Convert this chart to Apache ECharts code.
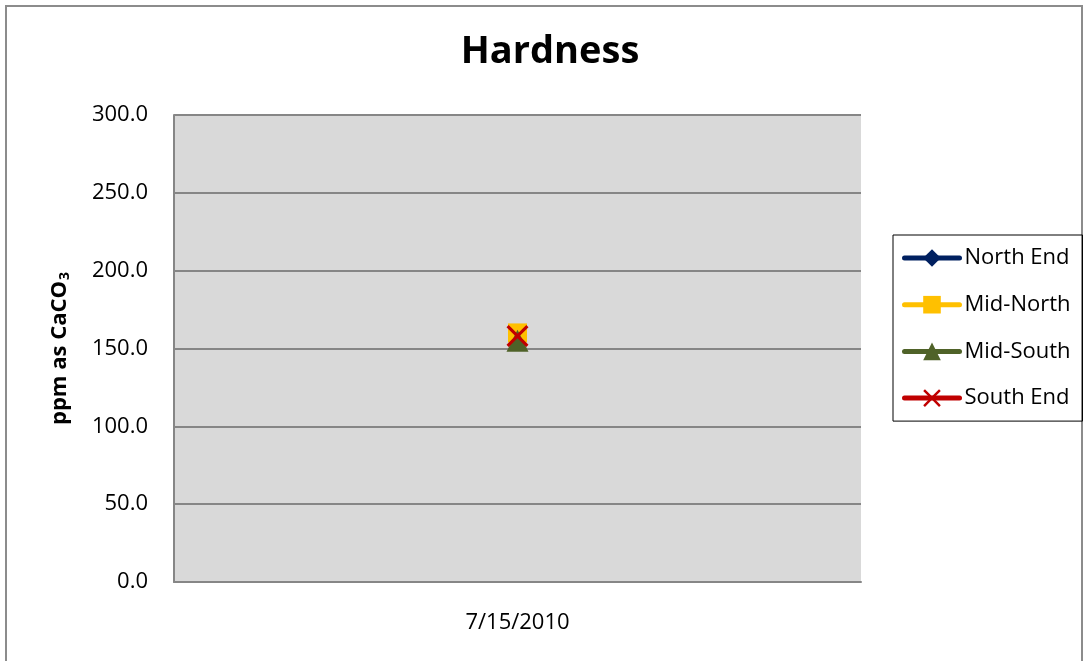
<!DOCTYPE html>
<html>
<head>
<meta charset="utf-8">
<script src="https://cdn.jsdelivr.net/npm/echarts@6/dist/echarts.min.js"></script>
<style>
  html, body { margin: 0; padding: 0; background: #fff; }
  #chart { width: 1085px; height: 661px; }
</style>
</head>
<body>
<div id="chart"></div>
<script>
// data
var dates = ['7/15/2010'];
var yTicks = [0, 50, 100, 150, 200, 250, 300];
var northEnd = [158];
var midNorth = [160];
var midSouth = [155];
var southEnd = [158];

var seriesNames = ['North End', 'Mid-North', 'Mid-South', 'South End'];
var seriesColors = ['#002060', '#ffc000', '#4f6228', '#c00000'];
var seriesSymbols = ['diamond', 'rect', 'triangle',
	'path://M0,1L1,0L5,4L9,0L10,1L6,5L10,9L9,10L5,6L1,10L0,9L4,5Z'];
var seriesSizes = [18, 19, 22, 22];
var seriesData = [northEnd, midNorth, midSouth, southEnd];

var font = '"Open Sans", "Noto Sans", sans-serif';

var chart = echarts.init(document.getElementById('chart'));

var series = [];
for (var i = 0; i < seriesNames.length; i++) {
	series.push({
		name: seriesNames[i],
		type: 'line',
		data: seriesData[i],
		symbol: seriesSymbols[i],
		symbolSize: seriesSizes[i],
		color: seriesColors[i],
		itemStyle: { color: seriesColors[i] },
		lineStyle: { width: 4, color: seriesColors[i], cap: 'round' },
		emphasis: { disabled: true }
	});
}

var option = {
	animation: false,
	backgroundColor: '#fff',
	title: {
		text: 'Hardness',
		left: 545,
		top: 28,
		textAlign: 'center',
		textStyle: { fontFamily: font, fontSize: 38, fontWeight: 'bold', color: '#000' }
	},
	legend: {
		data: seriesNames,
		orient: 'vertical',
		left: 893,
		top: 235,
		width: 189,
		padding: [11, 12, 11, 9],
		itemWidth: 55,
		itemHeight: 22,
		itemGap: 22.7,
		borderColor: '#000',
		borderWidth: 1,
		lineStyle: { width: 5, cap: 'round' },
		textStyle: { fontFamily: font, fontSize: 22, color: '#000', lineHeight: 24 }
	},
	grid: {
		left: 174,
		right: 224,
		top: 115,
		bottom: 79,
		show: true,
		backgroundColor: '#d9d9d9',
		borderWidth: 0
	},
	xAxis: {
		type: 'category',
		data: dates,
		boundaryGap: true,
		axisLine: { lineStyle: { color: '#868686', width: 2 } },
		axisTick: { show: false },
		axisLabel: { fontFamily: font, fontSize: 22, color: '#000', margin: 30 }
	},
	yAxis: {
		type: 'value',
		min: yTicks[0],
		max: yTicks[yTicks.length - 1],
		interval: 50,
		name: '{m|ppm as CaCO}{s|3}',
		nameLocation: 'middle',
		nameRotate: 90,
		nameGap: 100,
		nameTextStyle: {
			rich: {
				m: { fontFamily: font, fontSize: 22, fontWeight: 'bold', color: '#000', lineHeight: 28 },
				s: { fontFamily: font, fontSize: 14, fontWeight: 'bold', color: '#000', lineHeight: 28, padding: [11, 0, 0, 1] }
			}
		},
		axisLine: { show: true, lineStyle: { color: '#868686', width: 2 } },
		axisTick: { show: false },
		splitLine: { lineStyle: { color: '#868686', width: 2 } },
		axisLabel: {
			fontFamily: font, fontSize: 22, color: '#000', margin: 26,
			formatter: function (v) { return v.toFixed(1); }
		}
	},
	graphic: [{
		type: 'rect',
		shape: { x: 6, y: 6, width: 1076, height: 670 },
		style: { fill: 'none', stroke: '#8c8c8c', lineWidth: 2 },
		silent: true
	}],
	series: series
};

chart.setOption(option);
</script>
</body>
</html>
